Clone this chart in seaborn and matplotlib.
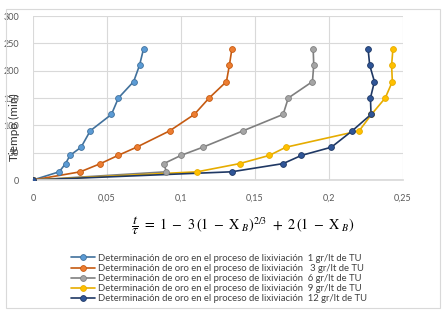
import numpy as np
import pandas as pd
import matplotlib
matplotlib.use('Agg')
import matplotlib.pyplot as plt
import seaborn as sns
from matplotlib.patches import Rectangle
from matplotlib.ticker import FuncFormatter

# Data
tiempo = [0, 15, 30, 45, 60, 90, 120, 150, 180, 210, 240]
x_1gr = [0, 0.0177, 0.0220, 0.0250, 0.0325, 0.0387, 0.0530, 0.0577, 0.0680, 0.0720, 0.0747]
x_3gr = [0, 0.0320, 0.0456, 0.0575, 0.0700, 0.0924, 0.1090, 0.1190, 0.1307, 0.1327, 0.1344]
x_6gr = [0, 0.0901, 0.0884, 0.1000, 0.1148, 0.1420, 0.1690, 0.1725, 0.1888, 0.1897, 0.1893]
x_9gr = [0, 0.1110, 0.1396, 0.1597, 0.1709, 0.2204, 0.2287, 0.2380, 0.2428, 0.2423, 0.2432]
x_12gr = [0, 0.1342, 0.1690, 0.1814, 0.2016, 0.2157, 0.2284, 0.2280, 0.2307, 0.2275, 0.2264]

base = 'Determinación de oro en el proceso de lixiviación '
labels = [base + ' 1 gr/lt de TU', base + '  3 gr/lt de TU', base + ' 6 gr/lt de TU',
          base + ' 9 gr/lt de TU', base + ' 12 gr/lt de TU']
series = [x_1gr, x_3gr, x_6gr, x_9gr, x_12gr]
line_colors = ['#41719C', '#C55A11', '#7F7F7F', '#E6AC00', '#1F3864']
marker_colors = ['#5B9BD5', '#ED7D31', '#A5A5A5', '#FFC000', '#2F5597']

rows = []
for lab, xs in zip(labels, series):
    for x, t in zip(xs, tiempo):
        rows.append({'x': x, 'tiempo': t, 'serie': lab})
df = pd.DataFrame(rows)

sns.set_theme(style='whitegrid')
plt.rcParams['font.family'] = ['Lato', 'DejaVu Sans']
plt.rcParams['mathtext.fontset'] = 'stix'

fig = plt.figure(figsize=(4.47, 3.18), dpi=100)
ax = fig.add_axes([33 / 447, 138 / 318, 370 / 447, 164 / 318])

sns.lineplot(data=df, x='x', y='tiempo', hue='serie', palette=line_colors,
             sort=False, estimator=None, linewidth=1.2, legend=False, ax=ax)
for lab, xs, mc, lc in zip(labels, series, marker_colors, line_colors):
    ax.plot(xs, tiempo, linestyle='none', marker='o', markersize=4.2,
            markerfacecolor=mc, markeredgecolor=lc, markeredgewidth=0.6, zorder=3)

ax.set_xlim(0, 0.25)
ax.set_ylim(0, 300)
ax.set_xticks(np.arange(0, 0.251, 0.05))
ax.set_yticks(np.arange(0, 301, 50))
ax.xaxis.set_major_formatter(FuncFormatter(lambda v, p: ('%g' % round(v, 2)).replace('.', ',')))
ax.tick_params(labelsize=6.5, colors='#595959', pad=4)
ax.grid(color='#D9D9D9', linewidth=0.8)
for s in ax.spines.values():
    s.set_visible(False)
ax.spines['bottom'].set_visible(True)
ax.spines['bottom'].set_color('#D9D9D9')

ax.set_xlabel('')
ax.set_ylabel('Tiempo (min)', fontsize=8.5, color='#333333')
ax.yaxis.set_label_coords(-0.035, 0.32)

fig.text(243 / 447, 1 - 226 / 318,
         r'$\dfrac{t}{\tau}\ =\ 1\ -\ 3\,(1\ -\ \mathrm{X}_{\ B})^{2/3}\ +\ 2\,(1\ -\ \mathrm{X}_{\ B})$',
         ha='center', va='center', fontsize=10.3, color='black')

handles = [plt.Line2D([], [], color=lc, linewidth=1.2, marker='o', markersize=4.2,
                      markerfacecolor=mc, markeredgecolor=lc, markeredgewidth=0.6)
           for lc, mc in zip(line_colors, marker_colors)]
fig.legend(handles, labels, loc='upper left', bbox_to_anchor=(66 / 447, 1 - 249 / 318),
           frameon=False, fontsize=6.8, handlelength=2.6, handletextpad=0.3,
           labelspacing=0.12, borderpad=0, labelcolor='#404040')

fig.patches.append(Rectangle((6 / 447, 1 - 308 / 318), 434 / 447, 299 / 318,
                             transform=fig.transFigure, fill=False,
                             edgecolor='#D9D9D9', linewidth=0.8))

fig.savefig('out.png', dpi=100)
